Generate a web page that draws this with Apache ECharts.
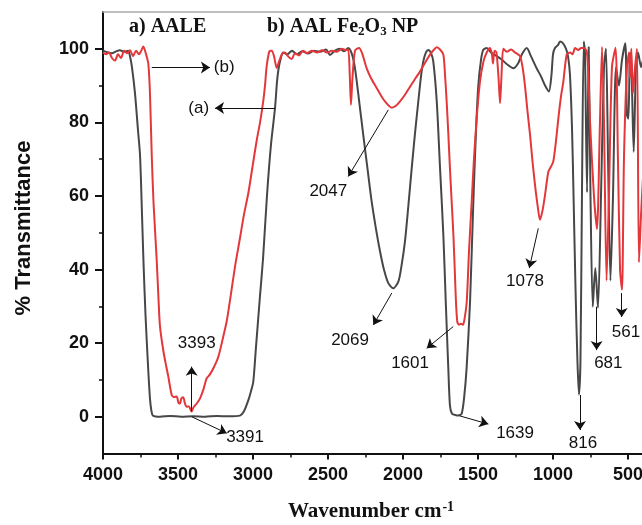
<!DOCTYPE html>
<html>
<head>
<meta charset="utf-8">
<script src="https://cdn.jsdelivr.net/npm/echarts@6/dist/echarts.min.js"></script>
<style>html,body{margin:0;padding:0;background:#fff;}#chart{width:642px;height:525px;}</style>
</head>
<body>
<div id="chart"></div>
<script>
// ---- Data ----
// (a) AALE – dark grey curve
const wavenumberA = [4000,3967,3940,3913,3887,3860,3833,3820,3807,3787,3767,3753,3740,3730,3717,3700,3687,3677,3667,3620,3550,3480,3400,3320,3240,3160,3087,3060,3031,3013,2998,2980,2953,2933,2907,2880,2853,2840,2830,2817,2800,2773,2740,2707,2673,2633,2593,2553,2513,2487,2453,2420,2393,2365,2340,2320,2293,2265,2237,2209,2180,2153,2127,2098,2065,2031,2010,1987,1965,1942,1920,1898,1880,1865,1847,1831,1813,1798,1775,1753,1731,1715,1698,1687,1673,1653,1633,1609,1593,1576,1553,1531,1513,1498,1480,1465,1442,1413,1375,1340,1307,1265,1233,1207,1175,1147,1109,1080,1053,1027,1010,1000,987,967,953,933,913,900,887,873,863,850,837,827,817,807,795,787,773,762,750,735,718,700,680,660,647,633,617,600,580,560,540,518,507,497,487,477,462,447,433,413,400];
const transmittanceA = [99.5,99,98.8,99.3,99.6,99.2,99.5,98,95,88,78,71,55,42,28,14,5,1.5,0.3,0,0.2,0,0.1,0,0.2,0.1,0.3,1.5,4.5,7,9.5,19,33,43,60,74,84,91,94.5,97,99,98.5,99.5,98.5,99.3,98.7,99.5,99.2,99.8,98.3,99.5,100,99.3,100.2,98.5,94.7,86,76.6,67.5,58.5,51,44.9,40,36.3,34.9,36.7,41,47.6,57,67.5,77,85.7,92.5,96.5,99,99.7,98.8,96.5,85.7,67.5,49.4,31.3,13.2,3,0.8,0.5,0.3,0.8,5,13.2,31.3,58.5,78,90,97,99.7,100.2,99,98,97,95.8,94.7,96,98.5,100.2,98,94.7,92.5,90,88.4,93,98.5,100.2,101,102,101.5,100,98,93,78,60,35,15,6,15,60,102,99,61,100.5,60,29.9,40.4,29.6,60,95,100,70,37,60,95,90,97,101.5,82,81,99,95,72,95,99,95,97];

// (b) AAL Fe2O3 NP – red curve
const wavenumberB = [4000,3980,3960,3940,3920,3900,3880,3860,3840,3820,3800,3780,3760,3747,3731,3713,3698,3687,3675,3663,3642,3630,3620,3598,3580,3565,3542,3527,3509,3497,3487,3477,3465,3453,3442,3427,3417,3409,3397,3375,3353,3330,3309,3287,3260,3231,3198,3175,3153,3120,3087,3060,3031,3003,2975,2953,2931,2920,2909,2891,2875,2860,2842,2827,2807,2787,2767,2742,2720,2693,2667,2640,2607,2573,2540,2507,2473,2440,2407,2380,2365,2355,2347,2337,2320,2293,2273,2242,2213,2175,2147,2120,2075,2047,2020,1987,1953,1920,1887,1853,1820,1797,1775,1753,1731,1720,1709,1698,1687,1675,1664,1655,1647,1638,1627,1613,1600,1590,1575,1560,1542,1527,1509,1487,1464,1442,1420,1407,1400,1390,1377,1363,1353,1343,1331,1307,1280,1253,1220,1203,1187,1170,1153,1137,1120,1103,1087,1070,1053,1031,1013,998,980,964,947,931,909,887,870,853,831,813,798,776,763,753,727,707,687,673,660,643,627,607,583,567,553,540,527,507,493,487,478,467,453,440,427,413,400];
const transmittanceB = [99,98.5,99,97.5,96.8,98.5,97.5,99.5,98.8,99.6,98,99.5,98.5,99.3,100.6,98.5,96,88,71,58,42.6,32,24.5,18,14,11,5.9,5.3,5.5,3.8,3.6,5,5.3,3.5,2.7,2.8,2,1.4,2.5,3.6,5,7.5,10.4,11.5,13.5,16.3,21.8,26,31.7,40.8,48.5,55,60.8,68,75.2,80,86,90,95.2,99.3,99.5,98,94.8,96.5,98.5,99,98,97.2,98.8,98.2,99.5,98.8,99.5,99,99.6,99,99.5,99.2,100,99.6,99.8,93,84.8,92,99.5,100.2,98.8,94.7,92,89.3,87.3,85.7,84,84.5,85.7,87.5,89.7,91.8,93.8,96.2,98.4,99.6,100.4,99.8,98.4,93,85.7,77,67.5,58,49.4,40,31.3,25.8,25,25.3,25,26.5,31.3,45,58.5,70,81,91,96.5,99,100.2,98.5,96,99.5,99,92,85.2,93,100,99.2,99.8,99,98,95,90,83,76.6,69.5,63,57.5,53.5,56,60.3,66.6,68,69.4,75,81.2,87,91.1,98.4,99,98.5,100.2,99.7,100.2,100.2,99.5,92,80,60,51,80,100.5,80,37,60,95,100.3,70,40,34.5,70,95,99,92,100,88,95,100,42,55,65];

// Axis ticks
const xTickLabels = [4000,3500,3000,2500,2000,1500,1000,500];
const xMinorTicks = [3750,3250,2750,2250,1750,1250,750];
const yTickLabels = [0,20,40,60,80,100];
const yMinorTicks = [10,30,50,70,90];

// Peak annotations: arrow start [wavenumber, %T], arrow end, label position, label text
const arrowFrom = [[3675,94.9],[2853,83.9],[2098,83.4],[2075,33.6],[1665,24.5],[1620,0.2],[1098,51.2],[820,5.9],[709,29.9],[542,33.6],[3409,1.4],[3409,0]];
const arrowTo   = [[3287,94.9],[3253,83.9],[2365,65.3],[2198,24.9],[1842,18.6],[1431,-2.0],[1158,40.4],[820,-3.6],[709,18.1],[542,27.1],[3409,13.6],[3175,-4.5]];
const labelAt   = [[3192,94.9],[3362,83.9],[2498,61.2],[2353,20.8],[1953,14.5],[1253,-4.5],[1187,36.7],[800,-7.2],[631,14.5],[513,23],[3375,20],[3053,-5.7]];
const labelText = ['(b)','(a)','2047','2069','1601','1639','1078','816','681','561','3393','3391'];

const zip = (xs, ys) => xs.map((x, i) => [x, ys[i]]);

const chart = echarts.init(document.getElementById('chart'), null, {renderer: 'canvas'});

const tickFont = {fontFamily: 'Liberation Sans', fontWeight: 'bold', fontSize: 18, color: '#111', formatter: v => String(v)};
const xBase = {type: 'value', min: 400, max: 4000, inverse: true, gridIndex: 0};
const yBase = {type: 'value', min: -10, max: 110, gridIndex: 0};

chart.setOption({
  animation: false,
  backgroundColor: '#fff',
  grid: {left: 103, width: 540, top: 12, height: 441.5, containLabel: false, outerBoundsMode: 'none'},
  xAxis: [
    Object.assign({}, xBase, {
      position: 'bottom',
      axisLine: {show: true, onZero: false, lineStyle: {color: '#111', width: 2}},
      axisTick: {show: true, inside: false, length: 6, customValues: xTickLabels, lineStyle: {color: '#111', width: 2}},
      axisLabel: Object.assign({show: true, margin: 13, customValues: xTickLabels}, tickFont),
      splitLine: {show: false}
    }),
    Object.assign({}, xBase, {
      position: 'bottom',
      axisLine: {show: false, onZero: false},
      axisTick: {show: true, inside: false, length: 4, customValues: xMinorTicks, lineStyle: {color: '#111', width: 1.5}},
      axisLabel: {show: false},
      splitLine: {show: false}
    }),
    Object.assign({}, xBase, {
      position: 'top',
      axisLine: {show: true, onZero: false, lineStyle: {color: '#aaa', width: 1.5}},
      axisTick: {show: false},
      axisLabel: {show: false},
      splitLine: {show: false}
    })
  ],
  yAxis: [
    Object.assign({}, yBase, {
      position: 'left',
      axisLine: {show: true, onZero: false, lineStyle: {color: '#111', width: 2}},
      axisTick: {show: true, inside: false, length: 8, customValues: yTickLabels, lineStyle: {color: '#111', width: 2}},
      axisLabel: Object.assign({show: true, margin: 14, customValues: yTickLabels}, tickFont),
      splitLine: {show: false}
    }),
    Object.assign({}, yBase, {
      position: 'left',
      axisLine: {show: false, onZero: false},
      axisTick: {show: true, inside: false, length: 4, customValues: yMinorTicks, lineStyle: {color: '#111', width: 1.5}},
      axisLabel: {show: false},
      splitLine: {show: false}
    })
  ],
  series: [
    {
      name: 'AALE', type: 'line', xAxisIndex: 0, yAxisIndex: 0,
      data: zip(wavenumberA, transmittanceA),
      showSymbol: false, symbol: 'none', smooth: 0.25, silent: true,
      lineStyle: {color: '#474747', width: 2}
    },
    {
      name: 'AAL Fe2O3 NP', type: 'line', xAxisIndex: 0, yAxisIndex: 0,
      data: zip(wavenumberB, transmittanceB),
      showSymbol: false, symbol: 'none', smooth: 0.25, silent: true,
      lineStyle: {color: '#e4373b', width: 2},
      markLine: {
        silent: true, animation: false,
        symbol: ['none', 'arrow'], symbolSize: 9,
        lineStyle: {color: '#111', width: 1, type: 'solid'},
        itemStyle: {color: '#111'},
        label: {show: false},
        data: arrowFrom.map((p, i) => [{coord: p}, {coord: arrowTo[i]}])
      }
    },
    {
      name: 'labels', type: 'scatter', xAxisIndex: 0, yAxisIndex: 0,
      data: labelAt.map((p, i) => [p[0], p[1], labelText[i]]),
      symbol: 'circle', symbolSize: 1, silent: true,
      itemStyle: {color: 'rgba(0,0,0,0)'},
      label: {
        show: true, position: 'inside',
        formatter: p => p.data[2],
        fontFamily: 'Liberation Sans', fontSize: 17, color: '#111',
        textBorderWidth: 0, textBorderColor: 'transparent', opacity: 1
      }
    }
  ],
  graphic: [
    {
      type: 'text', left: 129, top: 17, silent: true,
      style: {text: 'a) AALE', font: 'bold 20px "Liberation Serif"', fill: '#111'}
    },
    {
      type: 'text', left: 267, top: 17, silent: true,
      style: {
        text: 'b) AAL Fe{sub|2}O{sub|3} NP',
        font: 'bold 20px "Liberation Serif"', fill: '#111',
        rich: {sub: {font: 'bold 13px "Liberation Serif"', fill: '#111', verticalAlign: 'bottom', padding: [10, 0, 0, 0]}}
      }
    },
    {
      type: 'text', left: 288, top: 500, silent: true,
      style: {
        text: 'Wavenumber cm{sup|-1}',
        font: 'bold 21px "Liberation Serif"', fill: '#111',
        rich: {sup: {font: 'bold 14px "Liberation Serif"', fill: '#111', verticalAlign: 'top', padding: [0, 0, 10, 1]}}
      }
    },
    {
      type: 'text', x: 24, y: 228, rotation: Math.PI / 2, silent: true,
      style: {
        text: '% Transmittance', font: 'bold 22px "Liberation Sans"', fill: '#111',
        align: 'center', verticalAlign: 'middle'
      }
    }
  ]
});
</script>
</body>
</html>
